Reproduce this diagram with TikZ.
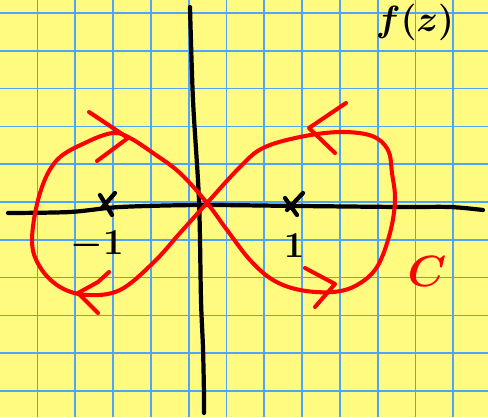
\documentclass[tikz,border=0pt]{standalone}
\definecolor{paper}{RGB}{255,250,128}
\definecolor{gridblue}{RGB}{80,165,250}
\begin{document}
\begin{tikzpicture}[x=0.02cm,y=-0.02cm,
  axis/.style={line width=2.4pt,line cap=round,line join=round},
  contour/.style={red,line width=2.3pt,line cap=round,line join=round}]
\fill[paper] (0,0) rectangle (488,417);
\useasboundingbox (0,0) rectangle (488,417);
\foreach \i in {0,...,11} \draw[gridblue,line width=1pt] (37.5+37.8*\i,0) -- (37.5+37.8*\i,417);
\foreach \i in {0,...,10} \draw[gridblue,line width=1pt] (0,13+37.8*\i) -- (488,13+37.8*\i);

\draw[axis] plot[smooth] coordinates {(8,213) (70,212) (120,207) (200,205) (300,206) (400,207) (450,207) (483,210)};
\draw[axis] plot[smooth] coordinates {(190,7) (193,100) (199,200) (201,300) (203,348) (204,395) (204,413)};

\draw[axis] (100,195) -- (112,215) (115,193) -- (102,208);
\draw[axis] (285,198) -- (297,215) (303,193) -- (287,210);
\node[font=\fontsize{20}{20}\selectfont\boldmath] (mone) at (97,245) {$-1$};
\node[font=\fontsize{20}{20}\selectfont\boldmath] (one) at (294,246) {$1$};
\node[font=\fontsize{22}{22}\selectfont\boldmath] (fz) at (415,22) {$f(z)$};
\node[red,font=\fontsize{32}{32}\selectfont\boldmath] (C) at (427,271) {$C$};

\draw[contour] plot[smooth cycle,tension=0.6] coordinates {(207,203) (227,230) (250,260) (273,280) (300,290) (333,292) (357,285) (377,267) (390,233) (395,200) (392,173) (388,150) (372,136) (340,132) (300,137) (263,148) (240,167) (207,203) (180,233) (153,263) (120,290) (87,295) (60,287) (40,267) (32,240) (40,193) (57,160) (87,142) (113,133) (130,138) (153,153) (180,173)};

\draw[contour] (89,112) -- (128,138) -- (97,161);
\draw[contour] (346,103) -- (309,128) -- (335,153);
\draw[contour] (109,272) -- (98,282) -- (78,293) -- (98,313);
\draw[contour] (305,268) -- (335,284) -- (315,307);
\end{tikzpicture}
\end{document}
